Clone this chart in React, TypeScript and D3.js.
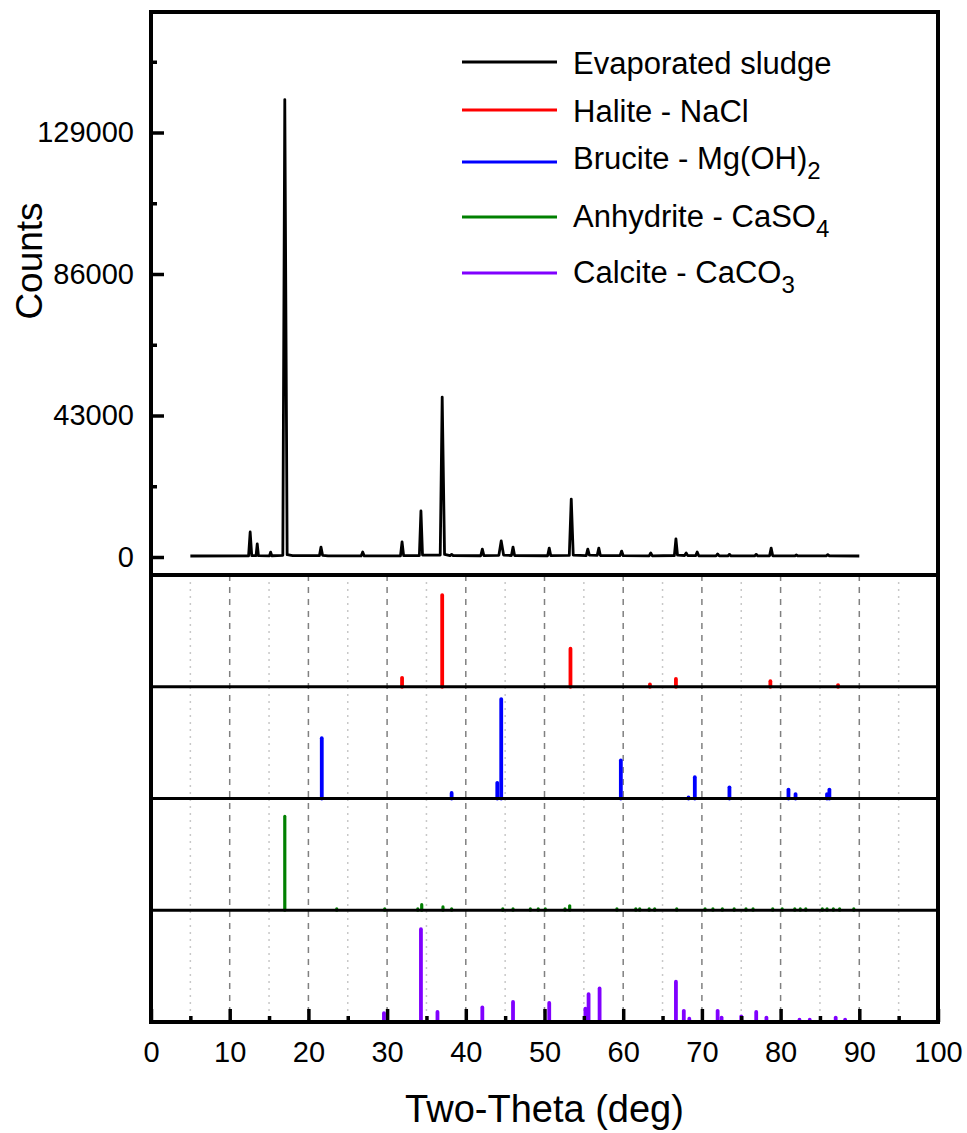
import { useEffect, useRef } from 'react'
import * as d3 from 'd3'

// ------------------------------------------------------------------ //
// Data

// measured pattern of the evaporated sludge: [two-theta, counts]
const sludgeTrace: [number, number][] = [
    [5.0, 300], [12.4, 320], [12.6, 7600], [12.8, 420], [13.35, 400], [13.5, 4000], [13.65, 420],
    [15.05, 350], [15.2, 1500], [15.35, 380], [16.75, 500], [17.0, 139000], [17.3, 700], [18.0, 400],
    [21.4, 400], [21.6, 3000], [21.8, 500], [22.5, 330], [26.7, 330], [26.9, 1500], [27.1, 330],
    [31.7, 350], [31.9, 4600], [32.1, 400], [34.1, 450], [34.3, 14000], [34.5, 600],
    [36.75, 600], [37.0, 48600], [37.3, 800], [38.0, 450], [38.2, 800], [38.4, 400],
    [41.9, 380], [42.1, 2400], [42.3, 420], [44.2, 500], [44.5, 4900], [44.8, 600],
    [45.8, 450], [46.0, 3000], [46.2, 420], [50.4, 380], [50.6, 2700], [50.8, 400],
    [53.15, 500], [53.4, 17600], [53.65, 600], [55.3, 420], [55.5, 2400], [55.7, 600],
    [56.7, 500], [56.9, 2700], [57.1, 450], [59.6, 420], [59.8, 1800], [60.0, 400],
    [63.3, 350], [63.5, 1200], [63.7, 350], [66.5, 450], [66.7, 5500], [66.9, 550],
    [67.8, 450], [68.0, 1200], [68.2, 420], [69.2, 400], [69.4, 1500], [69.6, 380],
    [71.8, 350], [72.0, 900], [72.2, 350], [73.3, 330], [73.5, 800], [73.7, 330],
    [76.7, 330], [76.9, 800], [77.1, 330], [78.6, 380], [78.8, 2700], [79.0, 380],
    [81.8, 320], [82.0, 600], [82.2, 320], [85.8, 320], [86.0, 700], [86.2, 320], [90.0, 300]
]

// reference sticks (two-theta, relative intensity in % of panel height)
const halitePos = [31.9, 37.0, 53.3, 63.4, 66.7, 78.7, 87.3]
const haliteInt = [8, 82, 34, 2, 7, 5, 1.5]

const brucitePos = [21.7, 38.2, 44.0, 44.5, 59.7, 68.3, 69.1, 73.5, 81.0, 81.9, 85.9, 86.2]
const bruciteInt = [54, 5, 14, 89, 34, 1, 19, 10, 8, 4, 4, 8]

const anhydritePos = [17.0, 23.6, 29.7, 33.9, 34.4, 37.1, 38.2, 44.7, 46.0, 48.2, 49.2, 50.1,
    52.6, 53.2, 59.2, 61.6, 62.1, 63.3, 64.0, 66.8, 70.4, 71.4, 72.6, 74.1, 75.6, 76.5,
    79.0, 80.2, 81.8, 82.5, 83.2, 85.3, 85.9, 86.7, 87.5, 89.3]
const anhydriteInt = [84, 1.2, 1.2, 1.2, 5, 3, 1.2, 1.2, 1.2, 1.2, 1.2, 1.2,
    1.2, 4, 1.2, 1.2, 1.2, 1.2, 1.2, 1.2, 1.2, 1.2, 1.2, 1.2, 1.2, 1.2,
    1.2, 1.2, 1.2, 1.2, 1.2, 1.2, 1.2, 1.2, 1.2, 1.2]

const calcitePos = [29.6, 34.3, 36.4, 42.1, 46.0, 50.6, 55.2, 55.6, 57.0, 66.7, 67.7, 68.4,
    72.0, 72.5, 75.0, 76.9, 78.2, 82.4, 83.7, 87.0, 88.2]
const calciteInt = [8, 83, 9, 13, 18, 17, 12, 25, 30, 36, 10, 3,
    10, 4, 5, 9, 4, 2, 2, 4, 2]

const phaseColors = ["#ff0000", "#0000ff", "#008000", "#8000ff"]

// axes
const countTicks = [0, 43000, 86000, 129000]
const countMinorTicks = [21500, 64500, 107500, 150500]
const thetaTicks = [0, 10, 20, 30, 40, 50, 60, 70, 80, 90, 100]
const thetaMinorTicks = [5, 15, 25, 35, 45, 55, 65, 75, 85, 95]

// legend
const legendNames = ["Evaporated sludge", "Halite - NaCl", "Brucite - Mg(OH)", "Anhydrite - CaSO", "Calcite - CaCO"]
const legendSubs = ["", "", "2", "4", "3"]
const legendColors = ["#000000", ...phaseColors]

// ------------------------------------------------------------------ //

const W = 967, H = 1133
const left = 151, right = 938
const top = 12, countsBottom = 575, bottom = 1022
const FONT = "'Liberation Sans', Arial, sans-serif"

const drawChart = (node: SVGSVGElement) => {
    const svg = d3.select(node)
    svg.selectAll("*").remove()

    const x = d3.scaleLinear().domain([0, 100]).range([left, right])
    const yCounts = d3.scaleLinear().domain([-5470, 165620]).range([countsBottom, top])
    const panelH = (bottom - countsBottom) / 4

    // grid in the reference panels
    const grid = svg.append("g")
    grid.selectAll(".major")
        .data(thetaTicks.slice(1, -1))
        .enter()
        .append("line")
        .attr("x1", d => x(d)).attr("x2", d => x(d))
        .attr("y1", countsBottom).attr("y2", bottom)
        .attr("stroke", "#808080")
        .attr("stroke-width", 1.5)
        .attr("stroke-dasharray", "6,6")
    grid.selectAll(".minor")
        .data(thetaMinorTicks)
        .enter()
        .append("line")
        .attr("x1", d => x(d)).attr("x2", d => x(d))
        .attr("y1", countsBottom).attr("y2", bottom)
        .attr("stroke", "#c8c8c8")
        .attr("stroke-width", 1.5)
        .attr("stroke-dasharray", "2,5")

    // reference stick panels
    const phases = [
        { pos: halitePos, int: haliteInt },
        { pos: brucitePos, int: bruciteInt },
        { pos: anhydritePos, int: anhydriteInt },
        { pos: calcitePos, int: calciteInt }
    ]
    phases.forEach((p, i) => {
        const base = countsBottom + (i + 1) * panelH
        const yRef = d3.scaleLinear().domain([0, 100]).range([base, base - panelH])
        const sticks = p.pos.map((t, j) => ({ t, v: p.int[j] }))
        svg.append("g")
            .selectAll("line")
            .data(sticks)
            .enter()
            .append("line")
            .attr("x1", d => x(d.t)).attr("x2", d => x(d.t))
            .attr("y1", yRef(0)).attr("y2", d => yRef(d.v))
            .attr("stroke", phaseColors[i])
            .attr("stroke-width", i === 2 ? 3.2 : 3.8)
            .attr("stroke-linecap", "round")
    })

    // panel separators
    svg.append("g")
        .selectAll("line")
        .data([1, 2, 3])
        .enter()
        .append("line")
        .attr("x1", left).attr("x2", right)
        .attr("y1", d => countsBottom + d * panelH)
        .attr("y2", d => countsBottom + d * panelH)
        .attr("stroke", "#000")
        .attr("stroke-width", 3)
    svg.append("line")
        .attr("x1", left).attr("x2", right)
        .attr("y1", countsBottom).attr("y2", countsBottom)
        .attr("stroke", "#000")
        .attr("stroke-width", 4)

    // measured pattern
    const line = d3.line<[number, number]>()
        .x(d => x(d[0]))
        .y(d => yCounts(d[1]))
    svg.append("path")
        .datum(sludgeTrace)
        .attr("d", line)
        .attr("fill", "none")
        .attr("stroke", "#000")
        .attr("stroke-width", 2.8)
        .attr("stroke-linejoin", "round")

    // y axis (counts), ticks pointing in
    const yAxis = svg.append("g")
        .attr("transform", `translate(${left},0)`)
        .call(d3.axisLeft(yCounts).tickValues(countTicks).tickSize(-13).tickPadding(17).tickFormat(d3.format("d")))
    const yMinor = svg.append("g")
        .attr("transform", `translate(${left},0)`)
        .call(d3.axisLeft(yCounts).tickValues(countMinorTicks).tickSize(-6).tickFormat(() => ""))

    // x axis (two-theta)
    const xAxis = svg.append("g")
        .attr("transform", `translate(0,${bottom})`)
        .call(d3.axisBottom(x).tickValues(thetaTicks).tickSize(-13).tickPadding(19))
    const xMinor = svg.append("g")
        .attr("transform", `translate(0,${bottom})`)
        .call(d3.axisBottom(x).tickValues(thetaMinorTicks).tickSize(-6).tickFormat(() => ""))

    ;[yAxis, yMinor, xAxis, xMinor].forEach(a => {
        a.select(".domain").remove()
        a.selectAll("line").attr("stroke", "#000").attr("stroke-width", 3.5)
        a.selectAll("text")
            .attr("fill", "#000")
            .attr("font-family", FONT)
            .attr("font-size", 29)
    })

    // frame
    svg.append("rect")
        .attr("x", left).attr("y", top)
        .attr("width", right - left).attr("height", bottom - top)
        .attr("fill", "none")
        .attr("stroke", "#000")
        .attr("stroke-width", 4)

    // axis titles
    svg.append("text")
        .attr("transform", `translate(42,261) rotate(-90)`)
        .attr("text-anchor", "middle")
        .attr("font-family", FONT)
        .attr("font-size", 37)
        .text("Counts")
    svg.append("text")
        .attr("x", (left + right) / 2)
        .attr("y", 1122)
        .attr("text-anchor", "middle")
        .attr("font-family", FONT)
        .attr("font-size", 38)
        .text("Two-Theta (deg)")

    // legend
    const lineYs = [62, 110, 162, 217, 273]
    const textYs = [74, 122, 169, 227, 283]
    const legend = svg.append("g")
    legendNames.forEach((name, i) => {
        legend.append("line")
            .attr("x1", 462).attr("x2", 557)
            .attr("y1", lineYs[i]).attr("y2", lineYs[i])
            .attr("stroke", legendColors[i])
            .attr("stroke-width", 3)
        const t = legend.append("text")
            .attr("x", 573)
            .attr("y", textYs[i])
            .attr("font-family", FONT)
            .attr("font-size", 31)
        t.append("tspan").text(name)
        if (legendSubs[i]) {
            t.append("tspan")
                .attr("dy", 10)
                .attr("font-size", 24)
                .text(legendSubs[i])
        }
    })
}

export default function App() {
    const ref = useRef<SVGSVGElement>(null)
    useEffect(() => {
        if (ref.current) drawChart(ref.current)
    }, [])
    return (
        <svg
            ref={ref}
            width={W}
            height={H}
            style={{ position: "absolute", left: 0, top: 0, background: "#fff" }}
        />
    )
}
